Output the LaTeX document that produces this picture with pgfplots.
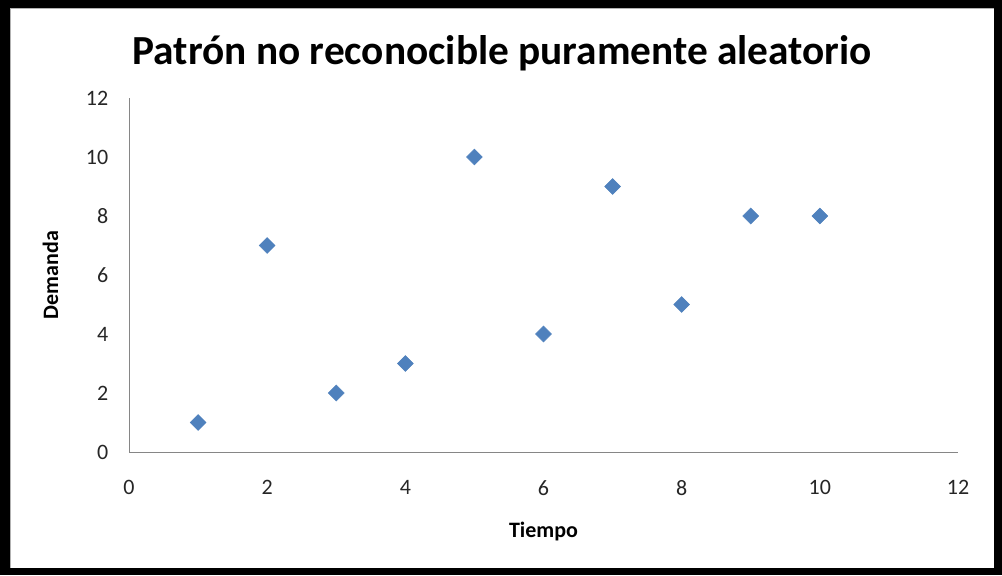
\documentclass[border=0pt]{standalone}
\usepackage{fontspec}
\setmainfont{Carlito}
\usepackage{pgfplots}
\pgfplotsset{compat=1.18}
\definecolor{mkblue}{HTML}{4F81BD}
\definecolor{axgray}{HTML}{868686}
\begin{document}
\begin{tikzpicture}
% frame (1px = 0.75pt, y upward)
\fill[black] (0pt,1.5pt) rectangle (751.5pt,432.75pt);
\fill[white] (7.5pt,6.75pt) rectangle (745.5pt,426.75pt);
\draw[gray!60,line width=0.75pt] (7.9pt,6.75pt) -- (7.9pt,426.4pt) -- (745.5pt,426.4pt);
\begin{axis}[
  at={(96.75pt,93.75pt)}, anchor=origin,
  scale only axis, width=621.75pt, height=265.5pt,
  xmin=0, xmax=12, ymin=0, ymax=12,
  xtick={0,2,...,12}, ytick={0,2,...,12},
  axis x line=bottom, axis y line=left,
  axis line style={axgray, line width=0.75pt, -},
  tick style={draw=none},
  major tick length=0pt,
  tick label style={font=\fontsize{16.5}{16.5}\selectfont, text=black!85},
  /pgf/number format/assume math mode=true,
  xticklabel style={yshift=-18pt},
  yticklabel style={xshift=-12pt},
  xlabel={\textbf{Tiempo}},
  ylabel={\textbf{Demanda}},
  label style={font=\fontsize{16.5}{16.5}\selectfont},
  xlabel style={yshift=-12.5pt},
  ylabel style={yshift=14pt},
  title={\textbf{Patrón no reconocible puramente aleatorio}},
  title style={font=\fontsize{31}{31}\selectfont, yshift=11pt, xshift=-31pt},
  clip=false,
]
\addplot[only marks, mark=square*, mark size=4.2pt, mark options={rotate=45, fill=mkblue, draw=mkblue}]
coordinates {(1,1)(2,7)(3,2)(4,3)(5,10)(6,4)(7,9)(8,5)(9,8)(10,8)};
\end{axis}
\end{tikzpicture}
\end{document}
